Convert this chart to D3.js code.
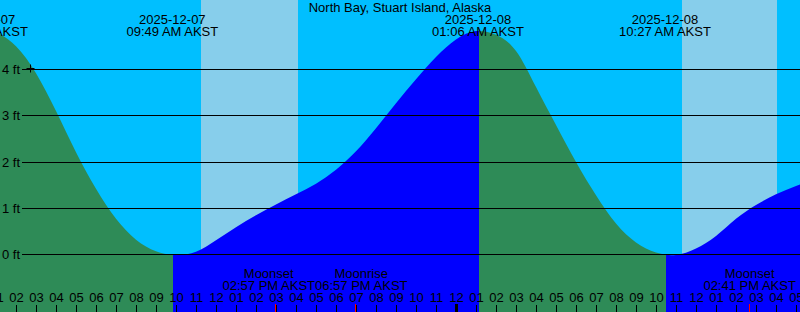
<!DOCTYPE html>
<html>
<head>
<meta charset="utf-8">
<script src="https://cdn.jsdelivr.net/npm/d3@7"></script>
<style>
  html, body { margin: 0; padding: 0; background: #fff; }
  svg { display: block; }
  text { font-family: "Liberation Sans", Arial, sans-serif; font-size: 13px; fill: #000; }
</style>
</head>
<body>
<svg id="chart" width="800" height="312"></svg>
<script>
// ---------------- DATA ----------------
const stationTitle = "North Bay, Stuart Island, Alaska";
// hours counted from 2025-12-07 00:00 AKST
const viewStartHour = 1.2;
const viewEndHour = 41.2;
const hourlyHours = d3.range(0, 43);
const hourlyHeights = [
  4.84, 4.79, 4.49, 3.91, 3.09, 2.20, 1.41, 0.76, 0.31, 0.06,
  -0.02, 0.05, 0.30, 0.58, 0.84, 1.07, 1.29, 1.52, 1.82, 2.22,
  2.72, 3.26, 3.78, 4.26, 4.64, 4.82, 4.74, 4.39, 3.61, 2.79,
  1.99, 1.27, 0.66, 0.25, 0.03, -0.02, 0.12, 0.39, 0.76, 1.06,
  1.29, 1.47, 1.62
];
const tideEventTypes = ["high", "low", "high", "low"];
const tideEventDates = ["2025-12-07", "2025-12-07", "2025-12-08", "2025-12-08"];
const tideEventTimes = ["12:18 AM AKST", "09:49 AM AKST", "01:06 AM AKST", "10:27 AM AKST"];
const tideEventHours = [0.3, 9.817, 25.1, 34.45];
const sunriseHours = [11.25, 35.3];
const sunsetHours = [16.1, 40.05];
const moonEventNames = ["Moonset", "Moonrise", "Moonset"];
const moonEventTimes = ["02:57 PM AKST", "06:57 PM AKST", "02:41 PM AKST"];
const moonEventHours = [14.95, 18.95, 38.683];
const levelTicks = [0, 1, 2, 3, 4];
const plusMarkHour = 2.7;
const plusMarkLevel = 4.02;

// ---------------- STYLE ----------------
const W = 800, H = 312;
const nightColor = "#00BFFF", dayColor = "#87CEEB";
const fallColor = "#2E8B57", riseColor = "#0000FF";

const svg = d3.select("#chart");
const x = d3.scaleLinear().domain([viewStartHour, viewEndHour]).range([0, W]);
const y = d3.scaleLinear().domain([0, 4]).range([254, 69]);

// background (night)
svg.append("rect").attr("x", 0).attr("y", 0).attr("width", W).attr("height", H).attr("fill", nightColor);

// daylight bands
svg.selectAll("rect.day").data(d3.zip(sunriseHours, sunsetHours)).join("rect")
  .attr("class", "day")
  .attr("x", d => Math.round(x(d[0])))
  .attr("y", 0)
  .attr("width", d => Math.round(x(d[1])) - Math.round(x(d[0])))
  .attr("height", H)
  .attr("fill", dayColor);

// tide curve points
const pts = hourlyHours.map((t, i) => ({ t, h: hourlyHeights[i] }));

const area = d3.area()
  .x(d => x(d.t))
  .y0(H)
  .y1(d => y(d.h))
  .curve(d3.curveNatural);

// segments between events: colour by direction
const bounds = [hourlyHours[0]].concat(tideEventHours).concat([hourlyHours[hourlyHours.length - 1]]);
const defs = svg.append("defs");
for (let i = 0; i < bounds.length - 1; i++) {
  const a = bounds[i], b = bounds[i + 1];
  let rising;
  if (i === 0) rising = tideEventTypes[0] === "high";
  else rising = tideEventTypes[i - 1] === "low";
  const x0 = i === 0 ? -50 : Math.round(x(a)) + 1;
  const x1 = i === bounds.length - 2 ? W + 50 : Math.round(x(b)) + 1;
  const id = "seg" + i;
  defs.append("clipPath").attr("id", id).append("rect")
    .attr("x", x0).attr("y", 0).attr("width", x1 - x0).attr("height", H);
  svg.append("path").datum(pts)
    .attr("d", area)
    .attr("fill", rising ? riseColor : fallColor)
    .attr("clip-path", `url(#${id})`);
}

// grid lines + level labels
const grid = svg.append("g");
levelTicks.forEach(v => {
  const yy = Math.round(y(v)) + 0.5;
  grid.append("line").attr("x1", 22).attr("x2", W).attr("y1", yy).attr("y2", yy)
    .attr("stroke", "#000").attr("stroke-width", 1);
  grid.append("text").attr("x", 20).attr("y", yy + 4.5).attr("text-anchor", "end")
    .text(v + " ft");
});

// plus marker
{
  const px = Math.round(x(plusMarkHour)) + 0.5, py = Math.round(y(plusMarkLevel)) + 0.5;
  svg.append("path").attr("d", `M${px - 4},${py}H${px + 4}M${px},${py - 4}V${py + 4}`)
    .attr("stroke", "#000").attr("stroke-width", 1).attr("fill", "none");
}

// title
svg.append("text").attr("x", W / 2).attr("y", 12).attr("text-anchor", "middle").text(stationTitle);

// tide event labels
tideEventHours.forEach((t, i) => {
  const g = svg.append("g").attr("transform", `translate(${x(t)},0)`);
  g.append("text").attr("y", 24).attr("text-anchor", "middle").text(tideEventDates[i]);
  g.append("text").attr("y", 36).attr("text-anchor", "middle").text(tideEventTimes[i]);
});

// hour ticks and labels
const hours = d3.range(Math.floor(viewStartHour) - 1, Math.ceil(viewEndHour) + 2);
hours.forEach(hr => {
  const xx = x(hr);
  const midnight = hr % 24 === 0;
  svg.append("rect")
    .attr("x", midnight ? Math.round(xx) - 1 : Math.round(xx))
    .attr("y", midnight ? 304 : 305)
    .attr("width", midnight ? 3 : 1)
    .attr("height", midnight ? 8 : 7)
    .attr("fill", "#000");
  const lab = String(((hr % 12) === 0) ? 12 : (hr % 12)).padStart(2, "0");
  svg.append("text").attr("x", xx + 0.5).attr("y", 302).attr("text-anchor", "middle").text(lab);
});

// moon events: red ticks and labels, labels pushed apart to avoid overlap
moonEventHours.forEach(t => {
  svg.append("rect").attr("x", Math.floor(x(t))).attr("y", 304).attr("width", 1).attr("height", 8)
    .attr("fill", "#FF0000");
});
const moonLabels = moonEventHours.map((t, i) => {
  const g = svg.append("g");
  const t1 = g.append("text").attr("y", 278).attr("text-anchor", "middle").text(moonEventNames[i]);
  const t2 = g.append("text").attr("y", 290).attr("text-anchor", "middle").text(moonEventTimes[i]);
  const w = Math.max(t1.node().getComputedTextLength(), t2.node().getComputedTextLength());
  return { g, cx: x(t), w };
});
moonLabels.sort((a, b) => a.cx - b.cx);
for (let iter = 0; iter < 5; iter++) {
  for (let i = 0; i < moonLabels.length - 1; i++) {
    const A = moonLabels[i], B = moonLabels[i + 1];
    const need = (A.w + B.w) / 2;
    const gap = B.cx - A.cx;
    if (gap < need) {
      const push = (need - gap) / 2;
      A.cx -= push; B.cx += push;
    }
  }
}
moonLabels.forEach(L => L.g.attr("transform", `translate(${L.cx},0)`));
</script>
</body>
</html>
